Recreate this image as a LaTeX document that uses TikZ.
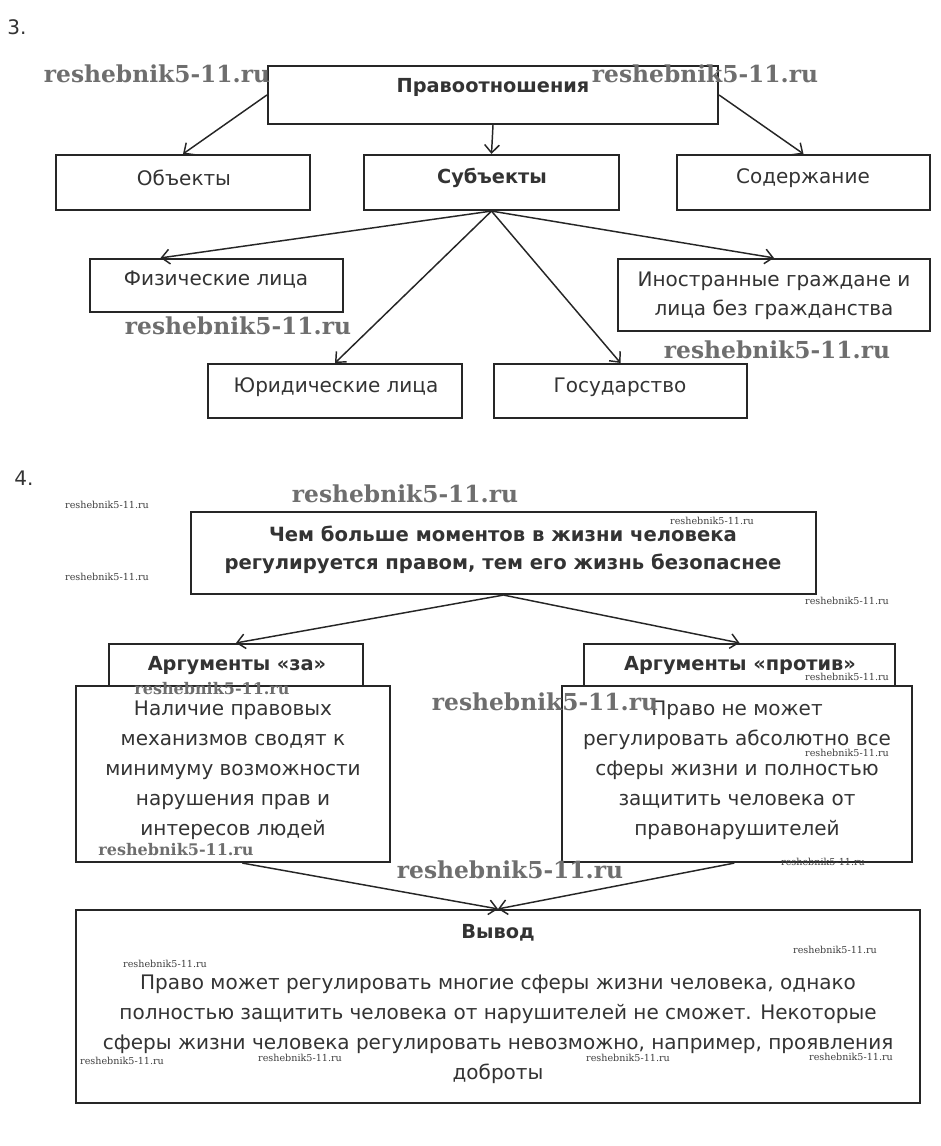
\documentclass[tikz,border=0pt]{standalone}
\usepackage{fontspec}
\setmainfont{DejaVu Sans}
\newfontfamily\wmfont{DejaVu Serif}
\usetikzlibrary{arrows.meta,fit,calc}
\definecolor{ink}{HTML}{262626}
\definecolor{txtc}{HTML}{333333}
\definecolor{wmc}{HTML}{6E6E6E}
\begin{document}
\begin{tikzpicture}[x=0.75pt,y=-0.75pt,
  box/.style={draw=ink, line width=1.6pt, fill=white, inner sep=0pt},
  arr/.style={draw=ink, line width=1.1pt, -{Straight Barb[length=6pt,width=11pt]}},
  txt/.style={font=\fontsize{15}{22}\selectfont, align=center, inner sep=0pt, text=txtc},
  txtb/.style={txt, font=\bfseries\fontsize{14.5}{21}\selectfont},
  body/.style={txt, font=\fontsize{15}{22.5}\selectfont},
  wmbig/.style={font=\wmfont\bfseries\fontsize{17.5}{18}\selectfont, text=wmc, inner sep=0pt},
  wmmid/.style={font=\wmfont\bfseries\fontsize{12}{12}\selectfont, text=wmc, inner sep=0pt},
  wmsmall/.style={font=\wmfont\fontsize{7.2}{7}\selectfont, text=black!75, inner sep=0pt}]
\useasboundingbox (0,0) rectangle (940,1146);
\fill[white] (0,0) rectangle (940,1146);

% ---------- Part 3 ----------
\node[txt, anchor=center] (n3) at (17,27) {3.};
\node[box, fit={(268,66)(718,124)}] (pr) {};
\node[txtb] (prt) at (493,87) {Правоотношения};
\node[box, fit={(56,155)(310,210)}] (ob) {};
\node[txt] (obt) at (184,178) {Объекты};
\node[box, fit={(364,155)(619,210)}] (su) {};
\node[txtb] (sut) at (492,178) {Субъекты};
\node[box, fit={(677,155)(930,210)}] (so) {};
\node[txt] (sot) at (803,178) {Содержание};

\node[box, fit={(90,259)(343,312)}] (fiz) {};
\node[txt] (fizt) at (216,280) {Физические лица};
\node[box, fit={(618,259)(930,331)}] (ino) {};
\node[txt, font=\fontsize{15}{21.8}\selectfont] (inot) at (774,296) {Иностранные граждане и\\лица без гражданства};
\node[box, fit={(208,364)(462,418)}] (jur) {};
\node[txt] (jurt) at (336,387) {Юридические лица};
\node[box, fit={(494,364)(747,418)}] (gos) {};
\node[txt] (gost) at (620,387) {Государство};

\draw[arr] (pr.west) -- (ob.north);
\draw[arr] (pr.south) -- (su.north);
\draw[arr] (pr.east) -- (so.north);
\draw[arr] (su.south) -- ([xshift=-42pt]fiz.north);
\draw[arr] (su.south) -- (jur.north);
\draw[arr] (su.south) -- (gos.north);
\draw[arr] (su.south) -- (ino.north);

% ---------- Part 4 ----------
\node[txt] (n4) at (24,478) {4.};
\node[box, fit={(191,512)(816,594)}] (top) {};
\node[txtb, font=\bfseries\fontsize{14.7}{21}\selectfont] (topt) at (503,550) {Чем больше моментов в жизни человека\\регулируется правом, тем его жизнь безопаснее};

\node[box, fit={(109,644)(363,700)}] (za) {};
\node[txtb] (zat) at (237,666) {Аргументы «за»};
\node[box, fit={(584,644)(895,700)}] (pro) {};
\node[txtb] (prot) at (740,666) {Аргументы «против»};

\node[box, fit={(76,686)(390,862)}] (lb) {};
\node[body] (lbt) at (233,770) {Наличие правовых\\механизмов сводят к\\минимуму возможности\\нарушения прав и\\интересов людей};
\node[box, fit={(562,686)(912,862)}] (rb) {};
\node[body] (rbt) at (737,770) {Право не может\\регулировать абсолютно все\\сферы жизни и полностью\\защитить человека от\\правонарушителей};

\node[box, fit={(76,910)(920,1103)}] (vy) {};
\node[txtb] (vyt) at (498,933) {Вывод};
\node[body] (vybt) at (498,1029) {Право может регулировать многие сферы жизни человека, однако\\полностью защитить человека от нарушителей не сможет. Некоторые\\сферы жизни человека регулировать невозможно, например, проявления\\доброты};

\draw[arr] (top.south) -- (za.north);
\draw[arr] (top.south) -- (pro.north);
\draw[arr] ([xshift=7pt]lb.south) -- (vy.north);
\draw[arr] ([xshift=-2pt]rb.south) -- (vy.north);

% ---------- watermarks ----------
\foreach \p [count=\i] in {(157,74),(705,74),(238,326),(777,350),(405,494),(545,702),(510,870)}
  \node[wmbig] (wb\i) at \p {reshebnik5-11.ru};
\foreach \p [count=\i] in {(212,689),(176,850)}
  \node[wmmid] (wm\i) at \p {reshebnik5-11.ru};
\foreach \p [count=\i] in {(107,505),(107,577),(712,521),(847,601),(847,677),(847,753),(823,862),(835,950),(165,964),(122,1061),(300,1058),(628,1058),(851,1057)}
  \node[wmsmall] (ws\i) at \p {reshebnik5-11.ru};
\end{tikzpicture}
\end{document}
